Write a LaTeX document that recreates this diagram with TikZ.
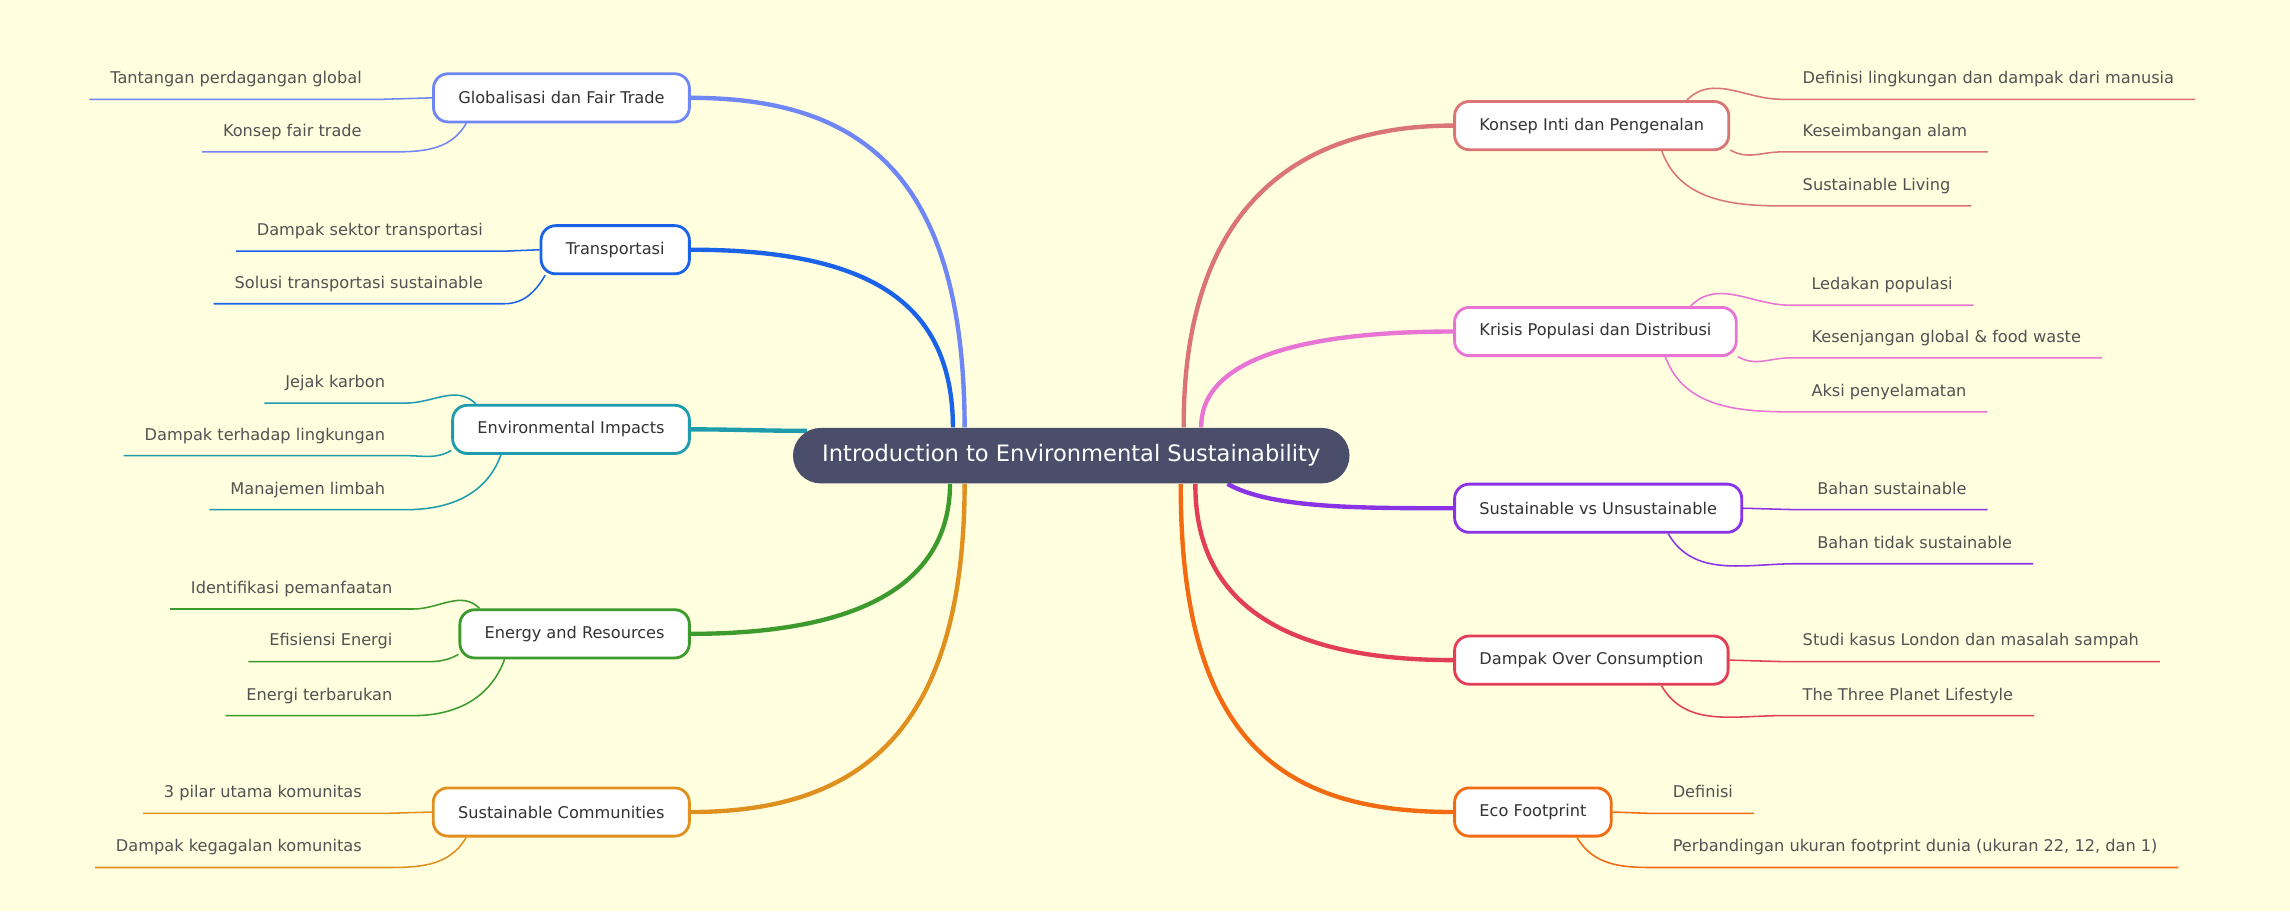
\documentclass[tikz,border=0pt]{standalone}
\usepackage{fontspec}
\setmainfont{DejaVu Sans}
\usetikzlibrary{positioning,backgrounds}
\definecolor{bg}{HTML}{FFFEDF}
\definecolor{ctrcol}{HTML}{4B4E6B}
\definecolor{cglob}{HTML}{6F86F5}
\definecolor{ctrans}{HTML}{1A63E8}
\definecolor{cenv}{HTML}{1E9CAE}
\definecolor{cenergy}{HTML}{3D9A2C}
\definecolor{ccomm}{HTML}{E0901E}
\definecolor{ckonsep}{HTML}{DB7474}
\definecolor{ckrisis}{HTML}{E874D4}
\definecolor{csusvs}{HTML}{8A32E6}
\definecolor{cdampak}{HTML}{E23E55}
\definecolor{ceco}{HTML}{F26B12}
\tikzset{font=\fontsize{6.3}{7}\selectfont}
\tikzstyle{topic} = [draw, fill=white, rounded corners=0.2cm, line width=1.1pt, minimum height=0.66cm, inner xsep=0.34cm, text=black!80]
\tikzstyle{root} = [fill=ctrcol, rounded corners=0.38cm, minimum height=0.76cm, inner xsep=0.4cm, text=white, font=\fontsize{8.8}{10}\selectfont]
\tikzstyle{leaf} = [inner xsep=0.28cm, inner ysep=0.13cm, text height=1.6ex, text depth=0.4ex, text=black!68]
\tikzstyle{branch} = [line width=1.7pt]
\tikzstyle{twig} = [line width=0.6pt]

\begin{document}
\begin{tikzpicture}[x=0.02cm, y=-0.02cm]
		\node [root] (ctr) at (733.5,312) {Introduction to Environmental Sustainability};

		% left side
		\node [topic, draw=cglob, anchor=east] (glob) at (473,67) {Globalisasi dan Fair Trade};
		\node [topic, draw=ctrans, anchor=east] (trans) at (473,171) {Transportasi};
		\node [topic, draw=cenv, anchor=east] (env) at (473,294) {Environmental Impacts};
		\node [topic, draw=cenergy, anchor=east] (energy) at (473,434) {Energy and Resources};
		\node [topic, draw=ccomm, anchor=east] (comm) at (473,556) {Sustainable Communities};

		% right side
		\node [topic, draw=ckonsep, anchor=west] (konsep) at (995,86) {Konsep Inti dan Pengenalan};
		\node [topic, draw=ckrisis, anchor=west] (krisis) at (995,227) {Krisis Populasi dan Distribusi};
		\node [topic, draw=csusvs, anchor=west] (susvs) at (995,348) {Sustainable vs Unsustainable};
		\node [topic, draw=cdampak, anchor=west] (dampak) at (995,452) {Dampak Over Consumption};
		\node [topic, draw=ceco, anchor=west] (eco) at (995,556) {Eco Footprint};

		% leaves
		\node [leaf, anchor=south east] (glob1) at (262,68) {Tantangan perdagangan global};
		\node [leaf, anchor=south east] (glob2) at (262,104) {Konsep fair trade};
		\node [leaf, anchor=south east] (trans1) at (345,172) {Dampak sektor transportasi};
		\node [leaf, anchor=south east] (trans2) at (345,208) {Solusi transportasi sustainable};
		\node [leaf, anchor=south east] (env1) at (278,276) {Jejak karbon};
		\node [leaf, anchor=south east] (env2) at (278,312) {Dampak terhadap lingkungan};
		\node [leaf, anchor=south east] (env3) at (278,349) {Manajemen limbah};
		\node [leaf, anchor=south east] (energy1) at (283,417) {Identifikasi pemanfaatan};
		\node [leaf, anchor=south east] (energy2) at (283,453) {Efisiensi Energi};
		\node [leaf, anchor=south east] (energy3) at (283,490) {Energi terbarukan};
		\node [leaf, anchor=south east] (comm1) at (262,557) {3 pilar utama komunitas};
		\node [leaf, anchor=south east] (comm2) at (262,594) {Dampak kegagalan komunitas};

		\node [leaf, anchor=south west] (konsep1) at (1220,68) {Definisi lingkungan dan dampak dari manusia};
		\node [leaf, anchor=south west] (konsep2) at (1220,104) {Keseimbangan alam};
		\node [leaf, anchor=south west] (konsep3) at (1220,141) {Sustainable Living};
		\node [leaf, anchor=south west] (krisis1) at (1226,209) {Ledakan populasi};
		\node [leaf, anchor=south west] (krisis2) at (1226,245) {Kesenjangan global \& food waste};
		\node [leaf, anchor=south west] (krisis3) at (1226,282) {Aksi penyelamatan};
		\node [leaf, anchor=south west] (susvs1) at (1230,349) {Bahan sustainable};
		\node [leaf, anchor=south west] (susvs2) at (1230,386) {Bahan tidak sustainable};
		\node [leaf, anchor=south west] (dampak1) at (1220,453) {Studi kasus London dan masalah sampah};
		\node [leaf, anchor=south west] (dampak2) at (1220,490) {The Three Planet Lifestyle};
		\node [leaf, anchor=south west] (eco1) at (1131,557) {Definisi};
		\node [leaf, anchor=south west] (eco2) at (1131,594) {Perbandingan ukuran footprint dunia (ukuran 22, 12, dan 1)};

		\begin{scope}[on background layer]
			\fill [bg] (0,0) rectangle (1568,624);
			\draw [branch, cglob] ([xshift=-1.46cm]ctr.north) .. controls (660,120) and (590,67) .. (glob.east);
			\draw [branch, ctrans] ([xshift=-1.62cm]ctr.north) .. controls (652,210) and (600,171) .. (trans.east);
			\draw [branch, cenv] ([shift={(0.2cm,0.34cm)}]ctr.west) to [out=180, in=0] (env.east);
			\draw [branch, cenergy] ([xshift=-1.66cm]ctr.south) .. controls (650,410) and (570,434) .. (energy.east);
			\draw [branch, ccomm] ([xshift=-1.46cm]ctr.south) .. controls (660,500) and (590,556) .. (comm.east);
			\draw [branch, ckonsep] ([xshift=1.54cm]ctr.north) .. controls (810,150) and (880,86) .. (konsep.west);
			\draw [branch, ckrisis] ([xshift=1.78cm]ctr.north) .. controls (822,250) and (880,227) .. (krisis.west);
			\draw [branch, csusvs] ([xshift=2.14cm]ctr.south) .. controls (870,348) and (930,348) .. (susvs.west);
			\draw [branch, cdampak] ([xshift=1.7cm]ctr.south) .. controls (818,420) and (890,452) .. (dampak.west);
			\draw [branch, ceco] ([xshift=1.5cm]ctr.south) .. controls (808,510) and (880,556) .. (eco.west);
		\end{scope}

		\draw [twig, cglob] (glob1.south west) -- (glob1.south east) -- (glob.west);
		\draw [twig, cglob] (glob2.south west) -- (glob2.south east) to [out=0, in=-120] (glob.-165);
		\draw [twig, ctrans] (trans1.south west) -- (trans1.south east) -- (trans.west);
		\draw [twig, ctrans] (trans2.south west) -- (trans2.south east) to [out=0, in=-120] (trans.-160);
		\draw [twig, cenv] (env1.south west) -- (env1.south east) to [out=0, in=135] (env.165);
		\draw [twig, cenv] (env2.south west) -- (env2.south east) to [out=0, in=-150] (env.-170);
		\draw [twig, cenv] (env3.south west) -- (env3.south east) to [out=0, in=-110] (env.-160);
		\draw [twig, cenergy] (energy1.south west) -- (energy1.south east) to [out=0, in=135] (energy.165);
		\draw [twig, cenergy] (energy2.south west) -- (energy2.south east) to [out=0, in=-150] (energy.-170);
		\draw [twig, cenergy] (energy3.south west) -- (energy3.south east) to [out=0, in=-110] (energy.-160);
		\draw [twig, ccomm] (comm1.south west) -- (comm1.south east) -- (comm.west);
		\draw [twig, ccomm] (comm2.south west) -- (comm2.south east) to [out=0, in=-120] (comm.-165);

		\draw [twig, ckonsep] (konsep.15) to [out=45, in=180] (konsep1.south west) -- (konsep1.south east);
		\draw [twig, ckonsep] (konsep.-10) to [out=-30, in=180] (konsep2.south west) -- (konsep2.south east);
		\draw [twig, ckonsep] (konsep.-20) to [out=-70, in=180] (konsep3.south west) -- (konsep3.south east);
		\draw [twig, ckrisis] (krisis.15) to [out=45, in=180] (krisis1.south west) -- (krisis1.south east);
		\draw [twig, ckrisis] (krisis.-10) to [out=-30, in=180] (krisis2.south west) -- (krisis2.south east);
		\draw [twig, ckrisis] (krisis.-20) to [out=-70, in=180] (krisis3.south west) -- (krisis3.south east);
		\draw [twig, csusvs] (susvs.east) -- (susvs1.south west) -- (susvs1.south east);
		\draw [twig, csusvs] (susvs.-20) to [out=-60, in=180] (susvs2.south west) -- (susvs2.south east);
		\draw [twig, cdampak] (dampak.east) -- (dampak1.south west) -- (dampak1.south east);
		\draw [twig, cdampak] (dampak.-20) to [out=-60, in=180] (dampak2.south west) -- (dampak2.south east);
		\draw [twig, ceco] (eco.east) -- (eco1.south west) -- (eco1.south east);
		\draw [twig, ceco] (eco.-30) to [out=-60, in=180] (eco2.south west) -- (eco2.south east);
	\end{tikzpicture}
\end{document}
